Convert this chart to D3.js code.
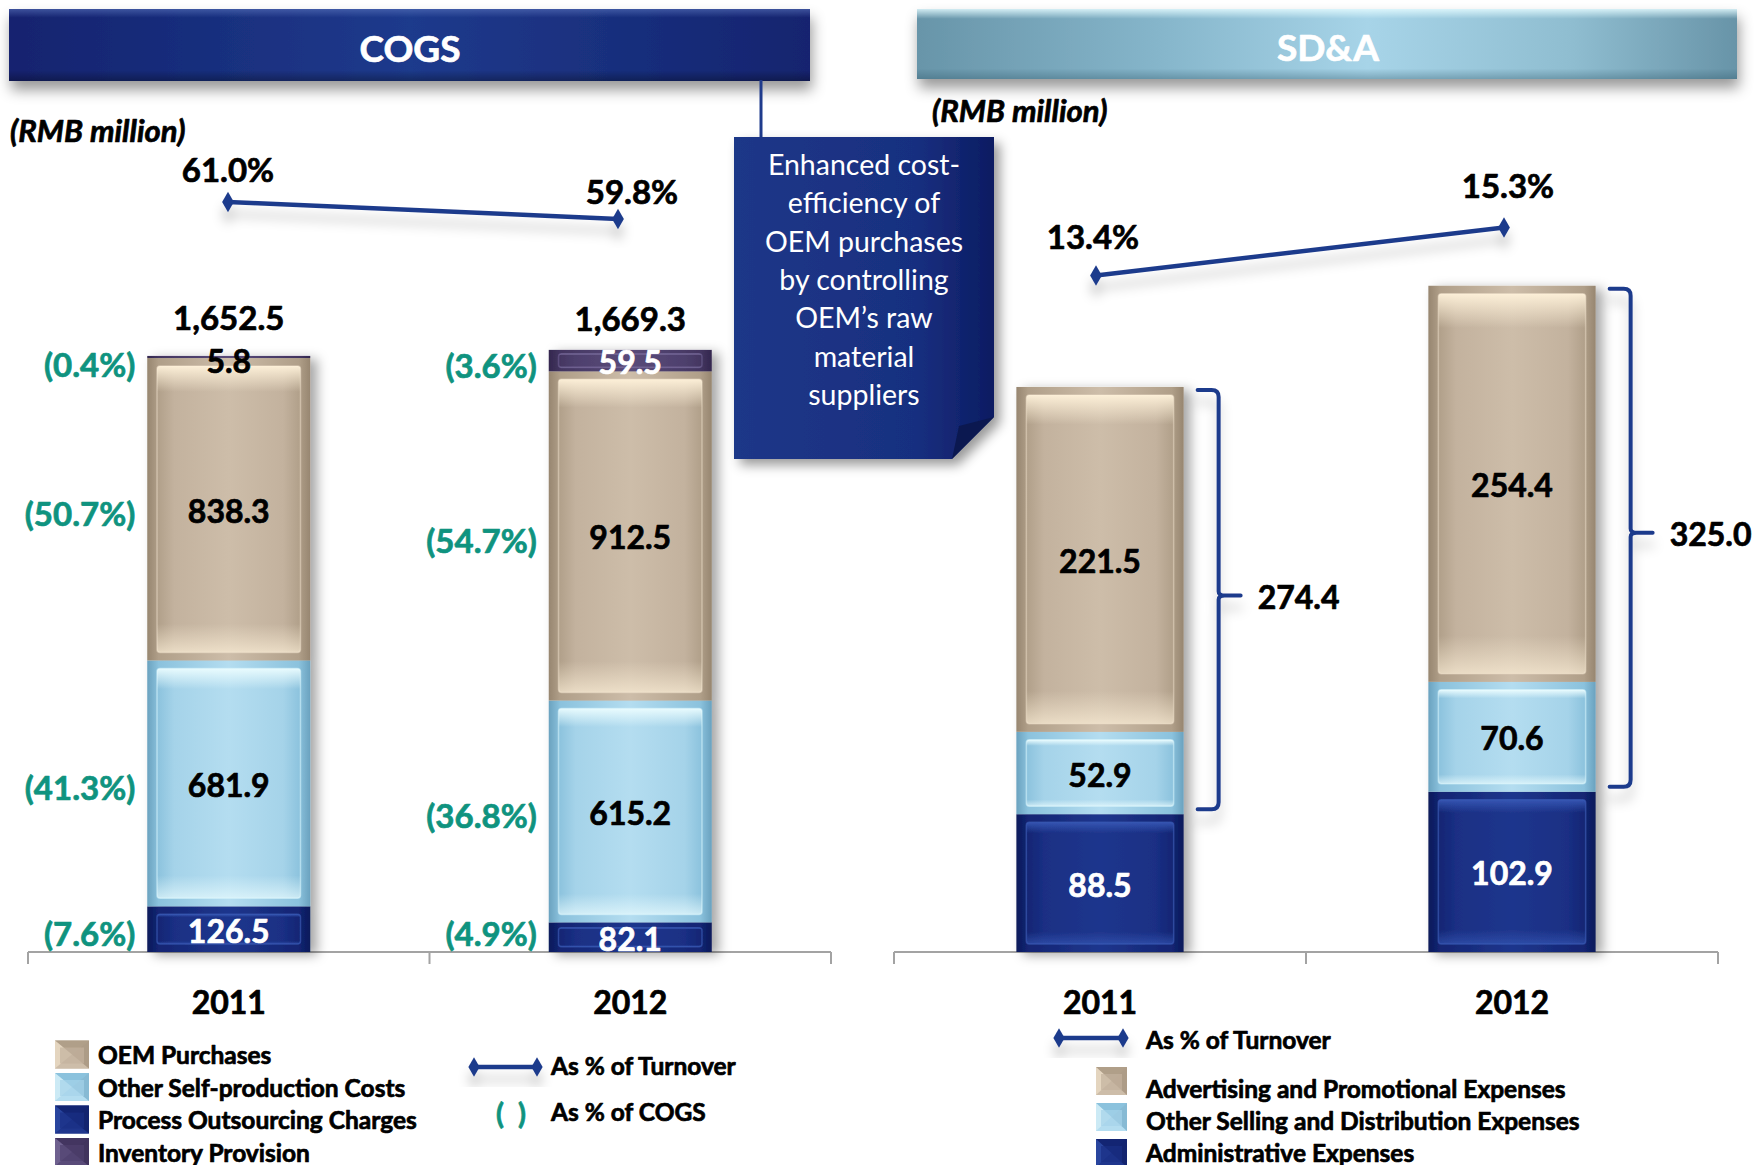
<!DOCTYPE html>
<html>
<head>
<meta charset="utf-8">
<script src="https://cdn.jsdelivr.net/npm/d3@7"></script>
<style>
  html, body { margin: 0; padding: 0; background: #ffffff; }
  svg { display: block; font-family: Lato, "Open Sans", "Noto Sans", sans-serif; }
  .b { font-weight: 700; paint-order: stroke; stroke-width: 0.7px; stroke-linejoin: round; }
</style>
</head>
<body>
<script>
// ---- data (RMB million) ----
const years = ["2011", "2012"];

// COGS breakdown
const processOutsourcing = [126.5, 82.1];
const otherSelfProduction = [681.9, 615.2];
const oemPurchases = [838.3, 912.5];
const inventoryProvision = [5.8, 59.5];
const cogsTotals = [1652.5, 1669.3];
// each component as % of COGS
const processShare = [7.6, 4.9];
const otherSelfShare = [41.3, 36.8];
const oemShare = [50.7, 54.7];
const inventoryShare = [0.4, 3.6];
// COGS as % of turnover
const cogsTurnoverPct = [61.0, 59.8];

// SD&A breakdown
const adminExpenses = [88.5, 102.9];
const otherSellingExpenses = [52.9, 70.6];
const advertisingExpenses = [221.5, 254.4];
const sellingTotals = [274.4, 325.0];
// SD&A as % of turnover
const sdaTurnoverPct = [13.4, 15.3];

const cogsLegend = ["OEM Purchases", "Other Self-production Costs", "Process Outsourcing Charges", "Inventory Provision"];
const sdaLegend = ["Advertising and Promotional Expenses", "Other Selling and Distribution Expenses", "Administrative Expenses"];
const calloutLines = ["Enhanced cost-", "efficiency of", "OEM purchases", "by controlling", "OEM\u2019s raw", "material", "suppliers"];

// ---- styling ----
const W = 1763, H = 1165;
const NAVY = "#1f3b8c";
const TEAL = "#0f937f";
const palettes = {
  tan:  { edge: "#978670", frame: "#b09f89", base: "#c3b29e", light: "#cdbda9", hi: "#fff2da", stroke: "#e2d4bf" },
  sky:  { edge: "#6aa2bf", frame: "#8bc2dd", base: "#a5d3e9", light: "#b4ddf0", hi: "#ecfdff", stroke: "#d2f1fa" },
  navy: { edge: "#0c1a5a", frame: "#132573", base: "#1a2f84", light: "#1f368d", hi: "#3657b4", stroke: "#3f62bd" },
  plum: { edge: "#33274e", frame: "#433560", base: "#4e406d", light: "#594b79", hi: "#8a7cab", stroke: "#6e6092" }
};

const fmtVal = d3.format(",.1f");
const fmtPct = d3.format(".1f");

const svg = d3.select("body").append("svg")
  .attr("width", W).attr("height", H).attr("viewBox", `0 0 ${W} ${H}`);
const defs = svg.append("defs");

// bold text helper (slightly thickened with a same-colour stroke)
function boldText(x, y, t, size, color) {
  const c = color || "#000";
  return svg.append("text").attr("class", "b").attr("x", x).attr("y", y)
    .attr("dominant-baseline", "central").attr("font-size", size)
    .attr("fill", c).attr("stroke", c).text(t);
}

// gradients for the bevelled bar look
Object.entries(palettes).forEach(([k, p]) => {
  const h = defs.append("linearGradient").attr("id", `h-${k}`).attr("x1", 0).attr("x2", 1).attr("y1", 0).attr("y2", 0);
  [[0, p.edge], [0.07, p.frame], [0.5, p.light], [0.93, p.frame], [1, p.edge]]
    .forEach(([o, c]) => h.append("stop").attr("offset", o).attr("stop-color", c));
  const hi = defs.append("linearGradient").attr("id", `hi-${k}`).attr("x1", 0).attr("x2", 1).attr("y1", 0).attr("y2", 0);
  [[0, p.frame], [0.12, p.base], [0.5, p.light], [0.88, p.base], [1, p.frame]]
    .forEach(([o, c]) => hi.append("stop").attr("offset", o).attr("stop-color", c));
  const v = defs.append("linearGradient").attr("id", `v-${k}`).attr("x1", 0).attr("x2", 0).attr("y1", 0).attr("y2", 1);
  [[0, p.hi, 0.95], [0.09, p.hi, 0], [0.9, p.hi, 0], [1, p.hi, 0.65]]
    .forEach(([o, c, a]) => v.append("stop").attr("offset", o).attr("stop-color", c).attr("stop-opacity", a));
});

// header gradients
const gCogsHead = defs.append("linearGradient").attr("id", "head-cogs").attr("x1", 0).attr("x2", 1);
[[0, "#12236f"], [0.5, "#1f3a8c"], [1, "#13246f"]].forEach(([o, c]) => gCogsHead.append("stop").attr("offset", o).attr("stop-color", c));
const gCogsHeadV = defs.append("linearGradient").attr("id", "head-cogs-v").attr("x1", 0).attr("x2", 0).attr("y1", 0).attr("y2", 1);
[[0, "#5d78c0", 0.55], [0.12, "#5d78c0", 0], [0.85, "#000", 0], [1, "#000", 0.3]].forEach(([o, c, a]) => gCogsHeadV.append("stop").attr("offset", o).attr("stop-color", c).attr("stop-opacity", a));
const gSdaHead = defs.append("linearGradient").attr("id", "head-sda").attr("x1", 0).attr("x2", 1);
[[0, "#6895a9"], [0.3, "#86b6cb"], [0.55, "#a7d4e8"], [0.8, "#8fbdd0"], [1, "#6894a8"]].forEach(([o, c]) => gSdaHead.append("stop").attr("offset", o).attr("stop-color", c));
const gSdaHeadV = defs.append("linearGradient").attr("id", "head-sda-v").attr("x1", 0).attr("x2", 0).attr("y1", 0).attr("y2", 1);
[[0, "#e4fbff", 0.85], [0.14, "#e4fbff", 0], [0.85, "#2b5466", 0], [1, "#2b5466", 0.35]].forEach(([o, c, a]) => gSdaHeadV.append("stop").attr("offset", o).attr("stop-color", c).attr("stop-opacity", a));
const gCallout = defs.append("linearGradient").attr("id", "callout").attr("x1", 0).attr("x2", 1);
[[0, "#1e3788"], [0.7, "#182f80"], [1, "#0c1c62"]].forEach(([o, c]) => gCallout.append("stop").attr("offset", o).attr("stop-color", c));

// shadows
function shadow(id, dx, dy, sd, op) {
  const f = defs.append("filter").attr("id", id).attr("x", "-30%").attr("y", "-30%").attr("width", "160%").attr("height", "180%");
  f.append("feDropShadow").attr("dx", dx).attr("dy", dy).attr("stdDeviation", sd)
    .attr("flood-color", "#000").attr("flood-opacity", op);
}
shadow("barShadow", 7, 3, 6, 0.35);
shadow("headShadow", 2, 9, 7, 0.4);
shadow("lineShadow", 0, 12, 6, 0.22);
shadow("boxShadow", 6, 6, 6, 0.4);

// ---- scales ----
const xCogs = d3.scaleBand().domain(years).range([28, 831]).padding(0);
const xSda = d3.scaleBand().domain(years).range([894, 1718]).padding(0);
const BAR_RATIO = 0.406;
const BASE_Y = 952;
const yCogs = d3.scaleLinear().domain([0, 1700]).range([BASE_Y, BASE_Y - 1700 * 0.3607]);
const ySda = d3.scaleLinear().domain([0, 450]).range([BASE_Y, BASE_Y - 450 * 1.557]);
const xCogsLine = d3.scalePoint().domain(years).range([228, 618]);
const yCogsLine = d3.scaleLinear().domain([59, 62]).range([230.3, 187.8]);
const xSdaLine = d3.scalePoint().domain(years).range([1096, 1504]);
const ySdaLine = d3.scaleLinear().domain([12, 17]).range([310.9, 184.6]);

// ---- headers ----
function header(x, y, w, h, fill, overlay, label, cx) {
  const g = svg.append("g");
  g.append("rect").attr("x", x).attr("y", y).attr("width", w).attr("height", h)
    .attr("fill", fill).attr("filter", "url(#headShadow)");
  g.append("rect").attr("x", x).attr("y", y).attr("width", w).attr("height", h).attr("fill", overlay);
  boldText(cx, y + h / 2 + 2, label, 37, "#fff").attr("text-anchor", "middle");
}
header(9, 9, 801, 72, "url(#head-cogs)", "url(#head-cogs-v)", "COGS", 410);
header(917, 9, 820, 70, "url(#head-sda)", "url(#head-sda-v)", "SD&A", 1328);

// unit notes
boldText(10, 130, "(RMB million)", 31).attr("font-style", "italic");
boldText(932, 110, "(RMB million)", 31).attr("font-style", "italic");

// ---- callout box ----
svg.append("line").attr("x1", 761).attr("x2", 761).attr("y1", 80).attr("y2", 138)
  .attr("stroke", NAVY).attr("stroke-width", 3);
svg.append("path")
  .attr("d", "M734,137 L994,137 L994,417 L952,459 L734,459 Z")
  .attr("fill", "url(#callout)").attr("filter", "url(#boxShadow)");
svg.append("path").attr("d", "M994,417 L952,459 L959,426 Z").attr("fill", "#0b1850");
calloutLines.forEach((t, i) => {
  svg.append("text").attr("x", 864).attr("y", 164 + i * 38.3).attr("text-anchor", "middle")
    .attr("dominant-baseline", "central").attr("fill", "#fff").attr("font-size", 28.5).text(t);
});

// ---- bar drawing ----
function drawSegment(g, x, y, w, h, key) {
  const p = palettes[key];
  g.append("rect").attr("x", x).attr("y", y).attr("width", w).attr("height", h).attr("fill", `url(#h-${key})`);
  if (h < 8) return;
  const ix = Math.min(10, w * 0.06), iy = Math.min(8, h * 0.18);
  g.append("rect").attr("x", x + ix).attr("y", y + iy).attr("width", w - 2 * ix).attr("height", h - 2 * iy)
    .attr("rx", 3).attr("fill", `url(#hi-${key})`)
    .attr("stroke", p.stroke).attr("stroke-opacity", 0.6).attr("stroke-width", 1.5);
  g.append("rect").attr("x", x + ix).attr("y", y + iy).attr("width", w - 2 * ix).attr("height", h - 2 * iy)
    .attr("rx", 3).attr("fill", `url(#v-${key})`);
}

// label centre for a segment, kept inside the top edge of the bar
function segLabelY(s, barTop) {
  return Math.max((s.top + s.bot) / 2, barTop + 4);
}

function drawPanel(xBand, y, rows, layers) {
  const stack = d3.stack().keys(layers.map(l => l.key))(rows);
  const barW = xBand.bandwidth() * BAR_RATIO;
  const out = [];
  rows.forEach((row, i) => {
    const cx = xBand(row.year) + xBand.bandwidth() / 2;
    const x0 = cx - barW / 2;
    const g = svg.append("g").attr("filter", "url(#barShadow)");
    const segs = [];
    stack.forEach((s, li) => {
      const [a, b] = s[i];
      const top = y(b), bot = y(a);
      drawSegment(g, x0, top, barW, bot - top, layers[li].pal);
      segs.push({ top, bot, layer: layers[li], value: b - a, i });
    });
    out.push({ cx, x0, barW, segs, top: y(stack[stack.length - 1][i][1]) });
  });
  out.forEach(b => b.segs.forEach(s => {
    const h = s.bot - s.top;
    const dark = s.layer.pal === "navy" || s.layer.pal === "plum";
    boldText(b.cx, segLabelY(s, b.top) + 1, fmtVal(s.value), 32, dark && h > 12 ? "#fff" : "#000")
      .attr("text-anchor", "middle");
  }));
  return out;
}

function drawAxis(xBand) {
  const [r0, r1] = xBand.range();
  const g = svg.append("g");
  g.append("line").attr("x1", r0).attr("x2", r1).attr("y1", BASE_Y).attr("y2", BASE_Y)
    .attr("stroke", "#a3a3a3").attr("stroke-width", 2);
  const bounds = xBand.domain().map(d => xBand(d)).concat([r1]);
  bounds.forEach(bx => g.append("line").attr("x1", bx).attr("x2", bx).attr("y1", BASE_Y).attr("y2", BASE_Y + 12)
    .attr("stroke", "#a3a3a3").attr("stroke-width", 2));
  xBand.domain().forEach(d => boldText(xBand(d) + xBand.bandwidth() / 2, 1001, d, 32).attr("text-anchor", "middle"));
}

function drawTurnoverLine(xs, ys, values, labelDx, labelDy) {
  const pts = years.map((yr, i) => [xs(yr), ys(values[i])]);
  const g = svg.append("g").attr("filter", "url(#lineShadow)");
  g.append("path").attr("d", d3.line()(pts)).attr("fill", "none").attr("stroke", NAVY).attr("stroke-width", 4.5);
  pts.forEach(p => g.append("path").attr("d", d3.symbol(d3.symbolDiamond, 120)())
    .attr("transform", `translate(${p[0]},${p[1]})`).attr("fill", NAVY));
  pts.forEach((p, i) => boldText(p[0] + labelDx[i], p[1] + labelDy[i], fmtPct(values[i]) + "%", 33)
    .attr("text-anchor", "middle"));
}

// ---- COGS panel ----
const cogsRows = years.map((yr, i) => ({
  year: yr, process: processOutsourcing[i], other: otherSelfProduction[i],
  oem: oemPurchases[i], inventory: inventoryProvision[i]
}));
const cogsLayers = [
  { key: "process", pal: "navy", share: processShare },
  { key: "other", pal: "sky", share: otherSelfShare },
  { key: "oem", pal: "tan", share: oemShare },
  { key: "inventory", pal: "plum", share: inventoryShare }
];
drawAxis(xCogs);
const cogsBars = drawPanel(xCogs, yCogs, cogsRows, cogsLayers);
cogsBars.forEach((b, i) => {
  // total sits above whichever is higher: the bar top or the top segment's label
  const topSeg = b.segs[b.segs.length - 1];
  const clearY = Math.min(yCogs(cogsTotals[i]), segLabelY(topSeg, b.top) - 13);
  boldText(b.cx, clearY - 30, fmtVal(cogsTotals[i]), 33).attr("text-anchor", "middle");
  b.segs.forEach(s => {
    const ly = Math.min(segLabelY(s, b.top) + 4, BASE_Y - 19);
    boldText(b.x0 - 12, ly, `(${fmtPct(s.layer.share[i])}%)`, 33, TEAL).attr("text-anchor", "end");
  });
});
drawTurnoverLine(xCogsLine, yCogsLine, cogsTurnoverPct, [0, 14], [-33, -28]);

// ---- SD&A panel ----
const sdaRows = years.map((yr, i) => ({
  year: yr, admin: adminExpenses[i], otherSelling: otherSellingExpenses[i], advertising: advertisingExpenses[i]
}));
const sdaLayers = [
  { key: "admin", pal: "navy" },
  { key: "otherSelling", pal: "sky" },
  { key: "advertising", pal: "tan" }
];
drawAxis(xSda);
const sdaBars = drawPanel(xSda, ySda, sdaRows, sdaLayers);
// braces around the selling & distribution part
sdaBars.forEach((b, i) => {
  const right = b.x0 + b.barW;
  const xa = right + 14, xv = right + 35, xn = right + 57;
  const yt = ySda(adminExpenses[i] + sellingTotals[i]) + 3;
  const yb = ySda(adminExpenses[i]) - 5;
  const ym = yt + (yb - yt) * 0.49;
  const r = 7;
  const d = `M${xa},${yt} L${xv - r},${yt} Q${xv},${yt} ${xv},${yt + r} L${xv},${ym - 4} Q${xv},${ym} ${xv + 6},${ym} L${xn},${ym}` +
            ` M${xv + 6},${ym} Q${xv},${ym} ${xv},${ym + 4} L${xv},${yb - r} Q${xv},${yb} ${xv - r},${yb} L${xa},${yb}`;
  svg.append("path").attr("d", d).attr("fill", "none").attr("stroke", NAVY).attr("stroke-width", 4)
    .attr("stroke-linecap", "round").attr("filter", "url(#lineShadow)");
  boldText(xn + 17, ym + 1, fmtVal(sellingTotals[i]), 32);
});
drawTurnoverLine(xSdaLine, ySdaLine, sdaTurnoverPct, [-3, 4], [-40, -43]);

// ---- legends ----
function swatch(x, y, w, h, key) {
  const p = palettes[key];
  const g = svg.append("g");
  const cx = x + w / 2, cy = y + h / 2;
  g.append("rect").attr("x", x).attr("y", y).attr("width", w).attr("height", h).attr("fill", p.base);
  g.append("path").attr("d", `M${x},${y} L${x + w},${y} L${cx},${cy} Z`).attr("fill", p.frame);
  g.append("path").attr("d", `M${x},${y + h} L${x + w},${y + h} L${cx},${cy} Z`).attr("fill", p.light);
  g.append("path").attr("d", `M${x},${y} L${x},${y + h} L${cx},${cy} Z`).attr("fill", p.hi).attr("opacity", 0.55);
  g.append("path").attr("d", `M${x + w},${y} L${x + w},${y + h} L${cx},${cy} Z`).attr("fill", p.edge).attr("opacity", 0.5);
  g.append("rect").attr("x", x + 5).attr("y", y + 7).attr("width", w - 10).attr("height", h - 12).attr("fill", p.base).attr("opacity", 0.7);
}
function legendText(x, y, t, color) {
  return boldText(x, y, t, 24.5, color);
}
function legendLine(x1, x2, y) {
  const g = svg.append("g").attr("filter", "url(#lineShadow)");
  g.append("line").attr("x1", x1 + 4).attr("x2", x2 - 4).attr("y1", y).attr("y2", y).attr("stroke", NAVY).attr("stroke-width", 4.5);
  [x1 + 4, x2 - 4].forEach(px => g.append("path").attr("d", d3.symbol(d3.symbolDiamond, 110)())
    .attr("transform", `translate(${px},${y})`).attr("fill", NAVY));
}

const cogsKeys = ["tan", "sky", "navy", "plum"];
cogsLegend.forEach((t, i) => {
  const cy = 1054.5 + i * 32.5;
  swatch(55, cy - 14, 34, 28, cogsKeys[i]);
  legendText(98, cy, t);
});
legendLine(470, 541, 1067);
legendText(551, 1065, "As % of Turnover");
boldText(511, 1112, "(  )", 29, TEAL).attr("text-anchor", "middle").attr("xml:space", "preserve");
legendText(551, 1111, "As % of COGS");

legendLine(1055, 1127, 1038);
legendText(1146, 1039, "As % of Turnover");
const sdaKeys = ["tan", "sky", "navy"];
const sdaSwatchTops = [1067, 1103, 1139];
const sdaTextY = [1088, 1120, 1152];
sdaLegend.forEach((t, i) => {
  swatch(1096, sdaSwatchTops[i], 31, 28, sdaKeys[i]);
  legendText(1146, sdaTextY[i], t);
});
</script>
</body>
</html>
